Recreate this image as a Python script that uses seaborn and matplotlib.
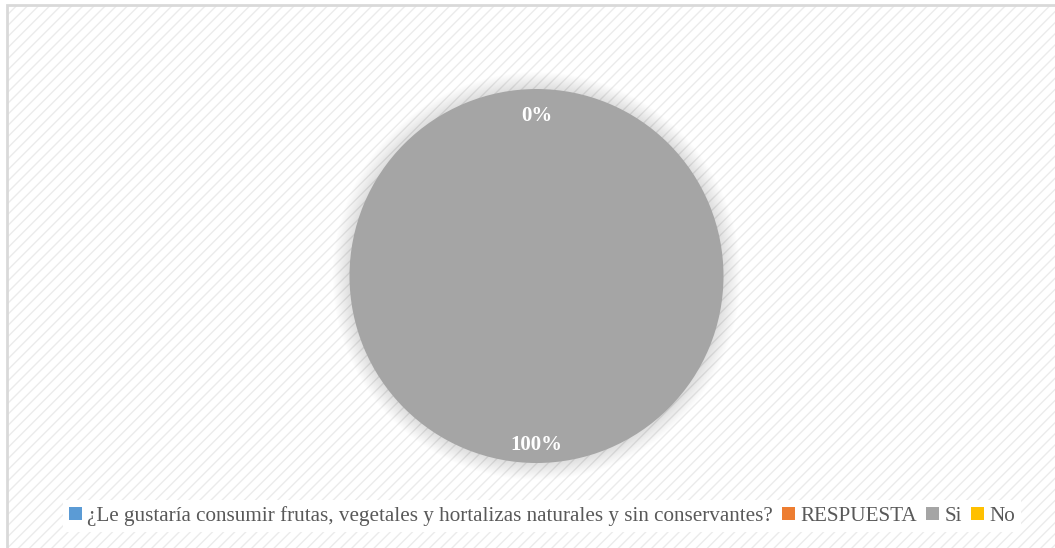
import matplotlib
matplotlib.use("Agg")
import matplotlib.pyplot as plt
import seaborn as sns
from matplotlib.patches import Rectangle, Circle, Patch

# ---- data ----
slice_labels = ["Si", "No"]
slice_values = [100, 0]
slice_colors = ["#A5A5A5", "#FFC000"]
legend_labels = ["¿Le gustaría consumir frutas, vegetales y hortalizas naturales y sin conservantes?",
                 "RESPUESTA", "Si", "No"]
legend_colors = ["#5B9BD5", "#ED7D31", "#A5A5A5", "#FFC000"]

sns.set_theme(style="white")
plt.rcParams['font.family'] = ['Liberation Serif', 'DejaVu Serif']
plt.rcParams['hatch.linewidth'] = 1.0

W, H = 1055, 548
fig = plt.figure(figsize=(W / 100, H / 100), dpi=100)
fig.patch.set_facecolor("white")

# background hatch + frame
bg = Rectangle((7 / W, 0), 1.0, 1 - 5 / H, transform=fig.transFigure,
               facecolor="white", edgecolor="#ebebeb", hatch="///", lw=0, zorder=-3)
fig.patches.append(bg)
frame = Rectangle((7 / W, -0.01), 1.05, 1 - 5 / H + 0.01, transform=fig.transFigure,
                  facecolor="none", edgecolor="#d9d9d9", lw=2, zorder=-2)
fig.patches.append(frame)

cx, cy, r = 536.5, 276, 187
ax = fig.add_axes([(cx - r) / W, (H - cy - r) / H, 2 * r / W, 2 * r / H])
ax.set_zorder(1)
ax.patch.set_visible(False)

# soft shadow
n = 16
for i in range(n):
    rad = 1.0 + 0.09 * (n - i) / n
    ax.add_patch(Circle((0, 0), rad, facecolor="#000000", alpha=0.008,
                        edgecolor="none", zorder=0, clip_on=False))

wedges, texts, autotexts = ax.pie(
    slice_values, colors=slice_colors, startangle=90, counterclock=False,
    autopct=lambda p: f"{p:.0f}%", pctdistance=0.88, radius=1.0,
    wedgeprops=dict(linewidth=0, edgecolor="none"),
    textprops=dict(color="white", fontsize=15, fontweight="bold"))
for w in wedges:
    w.set_zorder(2)
for t in autotexts:
    t.set_zorder(3)
    x, y = t.get_position()
    t.set_position((x, y - 0.022))
ax.set_xlim(-1, 1)
ax.set_ylim(-1, 1)
ax.set_aspect("equal")
ax.axis("off")

handles = [Patch(facecolor=c, edgecolor="none") for c in legend_colors]
leg = fig.legend(handles, legend_labels, loc="center", bbox_to_anchor=(542 / W, 1 - 516 / H),
                 ncol=4, frameon=True, fontsize=15.2, handlelength=0.6, handleheight=0.6,
                 handletextpad=0.25, columnspacing=0.45, borderpad=0.3,
                 labelcolor="#595959", fancybox=False)
leg.get_frame().set_facecolor("white")
leg.get_frame().set_edgecolor("none")
leg.get_frame().set_alpha(1)
leg.set_zorder(5)

fig.savefig("out.png", dpi=100, facecolor="white")
